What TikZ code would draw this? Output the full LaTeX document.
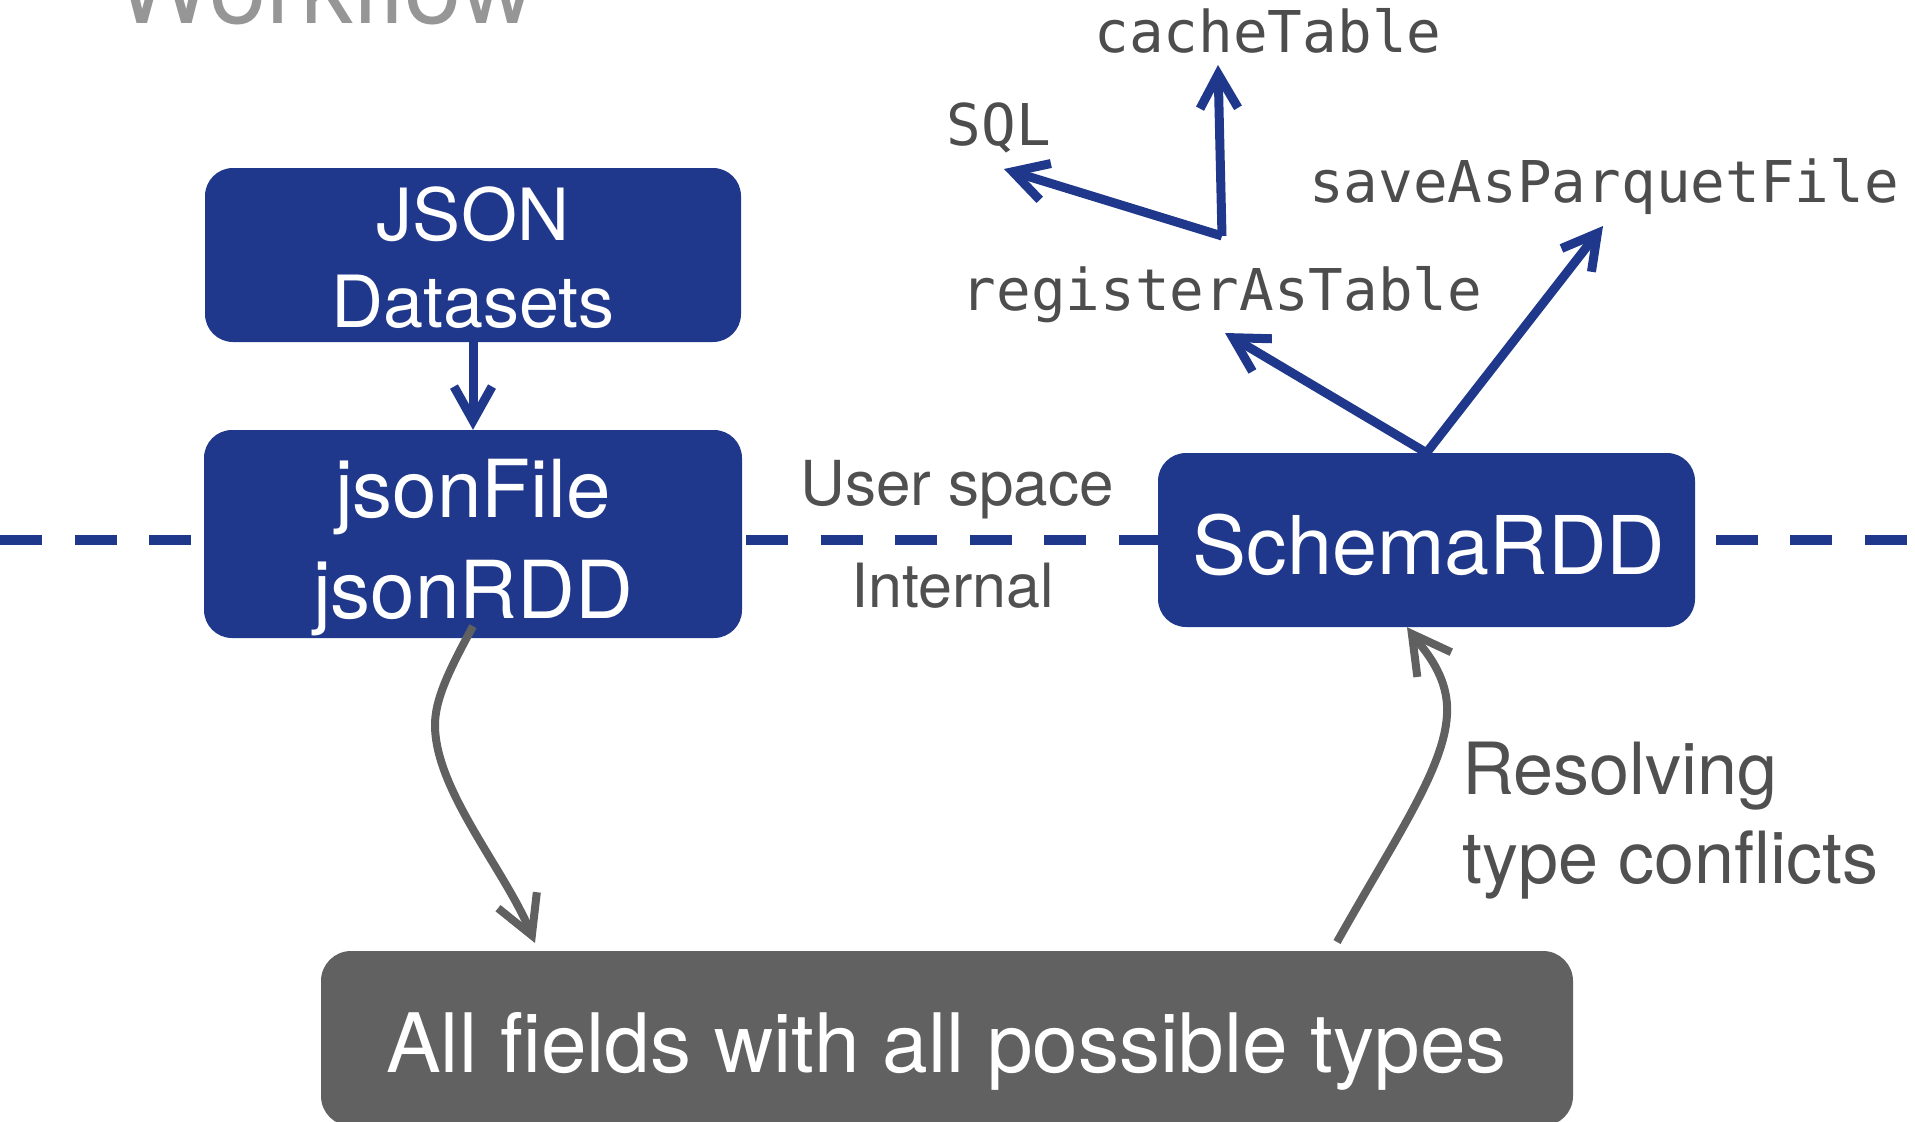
\documentclass[tikz,border=0pt]{standalone}
\usepackage{fontspec}
\setmainfont{TeX Gyre Heros}
\setmonofont{DejaVu Sans Mono}
\usetikzlibrary{arrows.meta}

\definecolor{sparkblue}{RGB}{32,56,139}
\definecolor{boxgray}{RGB}{97,97,97}
\definecolor{arrowgray}{RGB}{96,96,96}
\definecolor{labelgray}{RGB}{80,80,80}
\definecolor{codegray}{RGB}{77,77,77}
\definecolor{titlegray}{RGB}{150,150,150}

\begin{document}
\begin{tikzpicture}[x=1pt,y=-1pt,
  bluebox/.style={fill=sparkblue, rounded corners=28pt, inner sep=0pt},
  graybox/.style={fill=boxgray, rounded corners=30pt, inner sep=0pt},
  boxtext/.style={text=white, inner sep=0pt, anchor=base},
  sidelabel/.style={text=labelgray, inner sep=0pt, anchor=base},
  codelabel/.style={text=codegray, inner sep=0pt, anchor=base,
    font=\fontsize{57.6}{60}\ttfamily},
  bluearrow/.style={draw=sparkblue, line width=9pt,
    -{Straight Barb[length=34pt,width=38pt]}},
  grayarrow/.style={draw=arrowgray, line width=8pt,
    -{Straight Barb[length=38pt,width=42pt]}},
  boundary/.style={draw=sparkblue, line width=10pt,
    dash pattern=on 42pt off 32.6pt}
]
\useasboundingbox (0,0) rectangle (1915,1122);

% user space / internal boundary
\coordinate (lineL) at (0,540);
\coordinate (lineR) at (1915,540);
\draw[boundary] (lineL) -- (lineR);

% title (runs off the top edge)
\node[anchor=base, inner sep=0pt, text=titlegray,
  font=\fontsize{103}{105}\selectfont] (title) at (325,23) {Workflow};

% boxes
\node[bluebox, minimum width=536pt, minimum height=174pt] (J1) at (473,255) {};
\node[bluebox, minimum width=538pt, minimum height=208pt] (J2) at (473,534) {};
\node[bluebox, minimum width=537pt, minimum height=174pt] (S) at (1426.5,540) {};
\node[graybox, minimum width=1252pt, minimum height=175pt] (B) at (947,1038.5) {};

% box texts
\node[boxtext, font=\fontsize{72}{80}\selectfont] (J1a) at (473,240) {JSON};
\node[boxtext, font=\fontsize{72}{80}\selectfont] (J1b) at (473,327) {Datasets};
\node[boxtext, font=\fontsize{80}{90}\selectfont] (J2a) at (473,517) {jsonFile};
\node[boxtext, font=\fontsize{80}{90}\selectfont] (J2b) at (473,618) {jsonRDD};
\node[boxtext, font=\fontsize{81}{90}\selectfont] (St) at (1429,574) {SchemaRDD};
\node[boxtext, font=\fontsize{82}{90}\selectfont] (Bt) at (946.5,1072) {All fields with all possible types};

% side labels
\node[sidelabel, font=\fontsize{62}{70}\selectfont] (user) at (957,505) {User space};
\node[sidelabel, font=\fontsize{61}{70}\selectfont] (internal) at (953,607) {Internal};
\node[sidelabel, anchor=base west, font=\fontsize{72}{80}\selectfont] (res1) at (1462,794) {Resolving};
\node[sidelabel, anchor=base west, font=\fontsize{72}{80}\selectfont] (res2) at (1462,883) {type conflicts};

% API labels
\node[codelabel] (cache) at (1268,52) {cacheTable};
\node[codelabel] (sql) at (999,145) {SQL};
\node[codelabel] (reg) at (1222,310) {registerAsTable};
\node[codelabel] (save) at (1604,202) {saveAsParquetFile};

% arrow end points next to the labels
\coordinate (regTip) at (1225,333);
\coordinate (regTop) at (1222,236);
\coordinate (saveTip) at (1603,226);
\coordinate (sqlTip) at (1004,169);
\coordinate (cacheTip) at (1218,65);
\coordinate (fieldsIn) at (535,943);
\coordinate (fieldsOut) at (1337,942);

% blue flow
\draw[bluearrow] (J1.south) -- (J2.north);
\draw[bluearrow] (S.north) -- (regTip);
\draw[bluearrow] (S.north) -- (saveTip);
\draw[bluearrow] (regTop) -- (sqlTip);
\draw[bluearrow] (regTop) -- (cacheTip);

% schema inference loop
\draw[grayarrow] ([yshift=12pt]J2.south)
  .. controls (448,672) and (435,700) .. (435,725)
  .. controls (435,790) and (505,870) .. (fieldsIn);
\draw[grayarrow] (fieldsOut)
  .. controls (1400,830) and (1450,760) .. (1447,705)
  .. controls (1445,670) and (1420,645) .. ([xshift=-19.5pt]S.south);
\end{tikzpicture}
\end{document}
